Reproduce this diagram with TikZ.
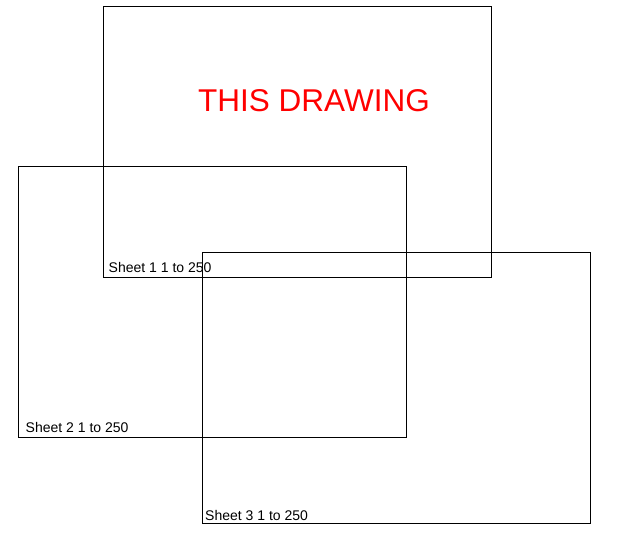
\documentclass[tikz,border=0pt]{standalone}
\usepackage{fontspec}
\setmainfont{Liberation Sans}
\usepackage{xcolor}
\usetikzlibrary{positioning}
\definecolor{titleRed}{HTML}{FF0000}

\begin{document}
\begin{tikzpicture}[x=1pt,y=-1pt,
    sheetbox/.style={draw,line width=0.9pt,minimum width=388pt,minimum height=271pt,inner sep=0pt},
    sheetlabel/.style={anchor=base west,inner sep=0pt,font=\fontsize{14pt}{16pt}\selectfont}]
    \useasboundingbox (0,0) rectangle (635,540);
    \node[sheetbox,anchor=north west] (sheetA) at (103.3,6) {};
    \node[sheetbox,anchor=north west] (sheetB) at (17.7,165.6) {};
    \node[sheetbox,anchor=north west] (sheetC) at (202,252.3) {};
    \node[titleRed,inner sep=0pt,font=\fontsize{31.5pt}{36pt}\selectfont] (title) at (314,101) {THIS DRAWING};
    \node[sheetlabel] (labelA) at (108.5,272.3) {Sheet 1 1 to 250};
    \node[sheetlabel] (labelB) at (25.5,432) {Sheet 2 1 to 250};
    \node[sheetlabel] (labelC) at (205,520) {Sheet 3 1 to 250};
\end{tikzpicture}
\end{document}
